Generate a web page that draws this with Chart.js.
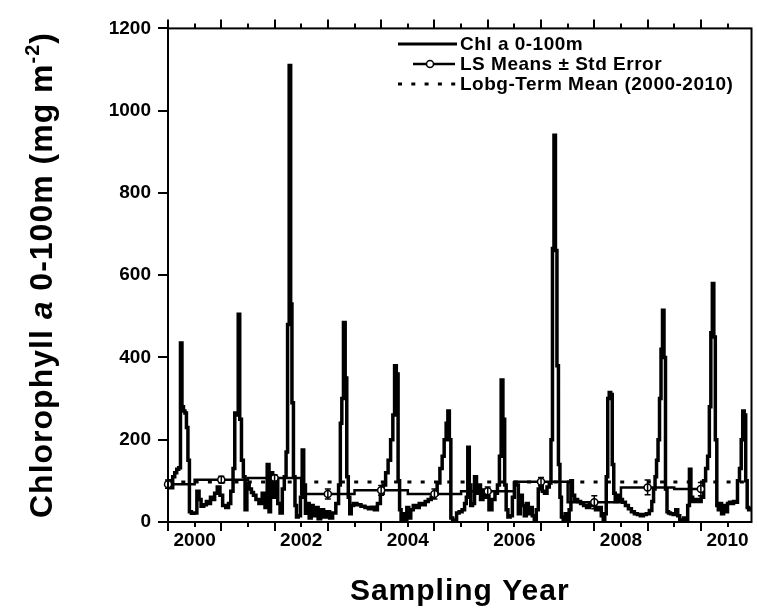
<!DOCTYPE html>
<html>
<head>
<meta charset="utf-8">
<script src="https://cdn.jsdelivr.net/npm/chart.js@4.4.1/dist/chart.umd.min.js"></script>
<style>
  html, body { margin: 0; padding: 0; background: #fff; }
  #wrap { width: 757px; height: 615px; position: relative; }
</style>
</head>
<body>
<div id="wrap"><canvas id="c" width="757" height="615"></canvas></div>
<script>
const FONT = '"Liberation Sans", Arial, Helvetica, sans-serif';

// Depth-integrated chlorophyll a (0-100 m), mg m-2, by sampling date (decimal year)
const sampleYears = [
  1999.500, 1999.533, 1999.570, 1999.607, 1999.645, 1999.682, 1999.720, 1999.748, 1999.776, 1999.804,
  1999.832, 1999.860, 1999.888, 1999.916, 1999.963, 2000.019, 2000.065, 2000.101, 2000.140, 2000.200,
  2000.240, 2000.280, 2000.315, 2000.350, 2000.400, 2000.449, 2000.501, 2000.550, 2000.617, 2000.654,
  2000.701, 2000.740, 2000.766, 2000.804, 2000.832, 2000.860, 2000.897, 2000.931, 2000.961, 2001.000,
  2001.047, 2001.085, 2001.122, 2001.178, 2001.234, 2001.301, 2001.340, 2001.383, 2001.409, 2001.439,
  2001.490, 2001.540, 2001.579, 2001.626, 2001.664, 2001.701, 2001.731, 2001.757, 2001.791, 2001.813,
  2001.839, 2001.869, 2001.897, 2001.925, 2001.963, 2002.009, 2002.028, 2002.065, 2002.093, 2002.131,
  2002.168, 2002.206, 2002.243, 2002.299, 2002.336, 2002.393, 2002.449, 2002.505, 2002.561, 2002.617,
  2002.682, 2002.720, 2002.748, 2002.776, 2002.809, 2002.841, 2002.869, 2002.897, 2002.925, 2002.953,
  2003.009, 2003.084, 2003.159, 2003.234, 2003.290, 2003.346, 2003.402, 2003.458, 2003.514, 2003.561,
  2003.607, 2003.654, 2003.701, 2003.738, 2003.766, 2003.804, 2003.832, 2003.860, 2003.888, 2003.925,
  2003.963, 2004.000, 2004.037, 2004.075, 2004.131, 2004.187, 2004.243, 2004.299, 2004.355, 2004.411,
  2004.467, 2004.523, 2004.579, 2004.626, 2004.664, 2004.701, 2004.738, 2004.766, 2004.794, 2004.822,
  2004.860, 2004.897, 2004.935, 2004.991, 2005.047, 2005.084, 2005.112, 2005.140, 2005.168, 2005.196,
  2005.234, 2005.271, 2005.308, 2005.346, 2005.383, 2005.439, 2005.495, 2005.551, 2005.608, 2005.664,
  2005.701, 2005.738, 2005.766, 2005.804, 2005.832, 2005.860, 2005.897, 2005.944, 2005.981, 2006.019,
  2006.056, 2006.093, 2006.131, 2006.168, 2006.206, 2006.243, 2006.280, 2006.318, 2006.355, 2006.393,
  2006.430, 2006.467, 2006.505, 2006.542, 2006.589, 2006.636, 2006.673, 2006.701, 2006.729, 2006.757,
  2006.785, 2006.813, 2006.841, 2006.869, 2006.897, 2006.935, 2006.972, 2007.009, 2007.047, 2007.075,
  2007.103, 2007.159, 2007.215, 2007.271, 2007.327, 2007.383, 2007.439, 2007.495, 2007.551, 2007.608,
  2007.654, 2007.682, 2007.710, 2007.738, 2007.766, 2007.794, 2007.822, 2007.851, 2007.879, 2007.907,
  2007.944, 2008.000, 2008.056, 2008.112, 2008.168, 2008.224, 2008.280, 2008.336, 2008.393, 2008.449,
  2008.505, 2008.561, 2008.598, 2008.626, 2008.654, 2008.682, 2008.710, 2008.738, 2008.766, 2008.794,
  2008.822, 2008.850, 2008.879, 2008.907, 2008.953, 2009.009, 2009.047, 2009.084, 2009.122, 2009.159,
  2009.196, 2009.234, 2009.271, 2009.299, 2009.327, 2009.365, 2009.421, 2009.477, 2009.533, 2009.570,
  2009.608, 2009.645, 2009.673, 2009.701, 2009.729, 2009.757, 2009.785, 2009.813, 2009.841, 2009.869,
  2009.907, 2009.944, 2009.981, 2010.019, 2010.056, 2010.093, 2010.131, 2010.168, 2010.206, 2010.243,
  2010.271, 2010.299, 2010.327, 2010.355, 2010.383, 2010.411, 2010.449
];
const chlValues = [
   95, 100,  83, 110, 120, 128, 132, 435, 280, 270,
  265, 230, 150,  25,  21,  22,  75,  55,  38,  42,
   50,  45,  60,  55,  70,  85,  65,  40,  35,  45,
   75, 130, 265, 260, 505, 250, 150, 110,  30,  95,
   80,  72,  65,  55,  45,  70,  35, 140,  25, 120,
   60, 100,  45,  22,  80, 110, 170, 480, 1110, 530,
  290, 110,  40,  12,  15,  60, 175,  90,  21,  45,
   10,  40,  15,  35,   8,  30,  12,  25,  10,  22,
   45,  90, 240, 300, 485, 350, 110,  60,  20,  40,
   45,  42,  38,  35,  32,  36,  30,  45,  70,  90,
  120, 150, 200, 260, 380, 360, 100,  30,   5,  20,
    2,  35,  10,  30,  40,  35,  45,  42,  50,  55,
   60,  68,  95, 130, 160, 200, 240, 270, 200,  10,
    2,   5,  22,  25,  30,  45,  60, 182,  90,  40,
   45, 110,  70,  90,  55,  78,  60,  30,  55,  70,
   90, 160, 345, 250,  90,  30,  12,  15,  60,  95,
   90,  20,  65,  40,  15,  45,  20,  35,  15,   5,
   30,  80,  88,  75,  70,  85,  95, 200, 665, 940,
  660, 380, 140,  60,  12,   3,  20,   5,  30, 100,
   65,  55,  50,  45,  40,  35,  45,  40,  30,  35,
   15,   0,  20, 110, 300, 315, 310, 140,  70,  50,
   65,  55,  48,  40,  32,  25,  20,  18,  15,  18,
   20,  28,  50,  80, 110, 150, 200, 300, 420, 515,
  400,  80,  25,  22,  20,  18,  30,  15,   5,   0,
   10,   3,  40, 128,  60,  50,  55,  50,  60, 100,
  130, 160, 280, 460, 580, 450, 200,  40,  30,  45,
   20,  40,  25,  45,  48,  45,  50,  48, 100, 130,
  200, 270, 260, 100,  35,  30,  32
];

// Annual least-squares means with standard errors
const lsYears   = [1999.5, 2000.5, 2001.5, 2002.5, 2003.5, 2004.5, 2005.5, 2006.5, 2007.5, 2008.5, 2009.5];
const lsMeans   = [92, 103, 107, 68, 77, 68, 75, 98, 48, 84, 80];
const lsStdErr  = [10, 8, 8, 12, 12, 12, 10, 10, 16, 18, 16];

// Long-term mean over the whole record
const longTermMean = 97;
const meanSpan = [1999.5, 2010.45];

// Axis ticks
const yearLabels = [2000, 2002, 2004, 2006, 2008, 2010];
const halfYearTicks = [1999.5, 2000, 2000.5, 2001, 2001.5, 2002, 2002.5, 2003, 2003.5, 2004, 2004.5,
                       2005, 2005.5, 2006, 2006.5, 2007, 2007.5, 2008, 2008.5, 2009, 2009.5, 2010];
const yTickValues = [0, 200, 400, 600, 800, 1000, 1200];

const LEGEND_LABELS = ['Chl a 0-100m', 'LS Means \u00B1 Std Error', 'Lobg-Term Mean (2000-2010)'];

// Frame, tick marks and error bars
const framePlugin = {
  id: 'frameAndErrors',
  afterDatasetsDraw(chart) {
    const { ctx, chartArea: a, scales: { x, y } } = chart;
    ctx.save();
    ctx.strokeStyle = '#000';

    // error bars drawn through the mean markers
    ctx.lineWidth = 1.5;
    lsYears.forEach((yr, i) => {
      const px = x.getPixelForValue(yr);
      const top = y.getPixelForValue(lsMeans[i] + lsStdErr[i]);
      const bot = y.getPixelForValue(lsMeans[i] - lsStdErr[i]);
      ctx.beginPath();
      ctx.moveTo(px, top); ctx.lineTo(px, bot);
      ctx.moveTo(px - 3, top); ctx.lineTo(px + 3, top);
      ctx.moveTo(px - 3, bot); ctx.lineTo(px + 3, bot);
      ctx.stroke();
    });

    // box
    ctx.lineWidth = 2;
    ctx.strokeRect(a.left, a.top, a.right - a.left, a.bottom - a.top);

    // y ticks (outward, left)
    ctx.beginPath();
    yTickValues.forEach(v => {
      const py = Math.round(y.getPixelForValue(v));
      ctx.moveTo(a.left - 10, py); ctx.lineTo(a.left, py);
    });
    // x ticks on bottom and top, long at mid-year
    halfYearTicks.forEach(t => {
      const px = Math.round(x.getPixelForValue(t));
      const len = (Math.round(t * 2) % 2 === 1) ? 9 : 5;
      ctx.moveTo(px, a.bottom); ctx.lineTo(px, a.bottom + len);
      ctx.moveTo(px, a.top); ctx.lineTo(px, a.top - len);
    });
    ctx.stroke();
    ctx.restore();
  },
  afterDraw(chart) {
    const { ctx, chartArea: a } = chart;
    ctx.save();
    ctx.fillStyle = '#000';
    ctx.strokeStyle = '#000';
    ctx.letterSpacing = '1px';

    // x axis title
    ctx.font = 'bold 30px ' + FONT;
    ctx.textAlign = 'center';
    ctx.textBaseline = 'alphabetic';
    ctx.fillText('Sampling Year', (a.left + a.right) / 2, 600);

    // y axis title with italic "a" and superscript
    const parts = [
      { t: 'Chlorophyll ', f: 'bold 32px ' + FONT, dy: 0 },
      { t: 'a', f: 'italic bold 32px ' + FONT, dy: 0 },
      { t: ' 0-100m (mg m', f: 'bold 32px ' + FONT, dy: 0 },
      { t: '-2', f: 'bold 20px ' + FONT, dy: -13 },
      { t: ')', f: 'bold 32px ' + FONT, dy: 0 }
    ];
    ctx.textAlign = 'left';
    let total = 0;
    parts.forEach(p => { ctx.font = p.f; p.w = ctx.measureText(p.t).width; total += p.w; });
    ctx.save();
    ctx.translate(52, 275);
    ctx.rotate(-Math.PI / 2);
    let cx = -total / 2;
    parts.forEach(p => { ctx.font = p.f; ctx.fillText(p.t, cx, p.dy); cx += p.w; });
    ctx.restore();

    // legend
    const lx0 = 398, lx1 = 457, tx = 460;
    const rows = [44, 64, 84];
    ctx.letterSpacing = '0.5px';
    ctx.font = 'bold 19px ' + FONT;
    ctx.textBaseline = 'middle';

    ctx.lineWidth = 3;
    ctx.beginPath(); ctx.moveTo(lx0, rows[0]); ctx.lineTo(lx1, rows[0]); ctx.stroke();
    ctx.fillText(LEGEND_LABELS[0], tx, rows[0] + 1);

    ctx.lineWidth = 2.5;
    ctx.beginPath();
    ctx.moveTo(413, rows[1]); ctx.lineTo(426, rows[1]);
    ctx.moveTo(434, rows[1]); ctx.lineTo(455, rows[1]);
    ctx.stroke();
    ctx.lineWidth = 1.5;
    ctx.beginPath(); ctx.arc(430, rows[1], 3.5, 0, Math.PI * 2);
    ctx.fillStyle = '#fff'; ctx.fill(); ctx.stroke();
    ctx.fillStyle = '#000';
    ctx.fillText(LEGEND_LABELS[1], tx, rows[1] + 1);

    ctx.lineWidth = 3;
    ctx.setLineDash([4, 9.3]);
    ctx.beginPath(); ctx.moveTo(lx0, rows[2]); ctx.lineTo(lx1, rows[2]); ctx.stroke();
    ctx.setLineDash([]);
    ctx.fillText(LEGEND_LABELS[2], tx, rows[2] + 1);

    ctx.restore();
  }
};

const chart = new Chart(document.getElementById('c').getContext('2d'), {
  type: 'line',
  data: {
    datasets: [
      {
        label: LEGEND_LABELS[1],
        data: lsYears.map((x, i) => ({ x, y: lsMeans[i] })),
        borderColor: '#000',
        borderWidth: 2.5,
        stepped: 'middle',
        pointRadius: 3.5,
        pointBorderWidth: 1.5,
        pointBackgroundColor: '#fff',
        pointBorderColor: '#000',
        fill: false,
        clip: false
      },
      {
        label: LEGEND_LABELS[2],
        data: meanSpan.map(x => ({ x, y: longTermMean })),
        borderColor: '#000',
        borderWidth: 3,
        borderDash: [4, 9.3],
        pointRadius: 0,
        fill: false
      },
      {
        label: LEGEND_LABELS[0],
        data: sampleYears.map((x, i) => ({ x, y: chlValues[i] })),
        borderColor: '#000',
        borderWidth: 3.5,
        stepped: 'middle',
        pointRadius: 0,
        fill: false
      }
    ]
  },
  options: {
    responsive: false,
    animation: false,
    events: [],
    layout: { padding: { top: 15, right: 3, left: 0, bottom: 0 } },
    plugins: { legend: { display: false }, tooltip: { enabled: false } },
    scales: {
      x: {
        type: 'linear',
        min: 1999.5,
        max: 2010.45,
        afterBuildTicks: s => { s.ticks = yearLabels.map(v => ({ value: v })); },
        afterFit: s => { s.height = 93; },
        ticks: {
          callback: v => String(v),
          font: { family: FONT, size: 19, weight: 'bold' },
          color: '#000',
          padding: 7,
          maxRotation: 0,
          autoSkip: false
        },
        grid: { display: false, drawTicks: false },
        border: { display: false }
      },
      y: {
        min: 0,
        max: 1200,
        afterBuildTicks: s => { s.ticks = yTickValues.map(v => ({ value: v })); },
        afterFit: s => { s.width = 168; },
        ticks: {
          callback: v => String(v),
          font: { family: FONT, size: 19, weight: 'bold' },
          color: '#000',
          padding: 17
        },
        grid: { display: false, drawTicks: false },
        border: { display: false }
      }
    }
  },
  plugins: [framePlugin]
});
</script>
</body>
</html>
